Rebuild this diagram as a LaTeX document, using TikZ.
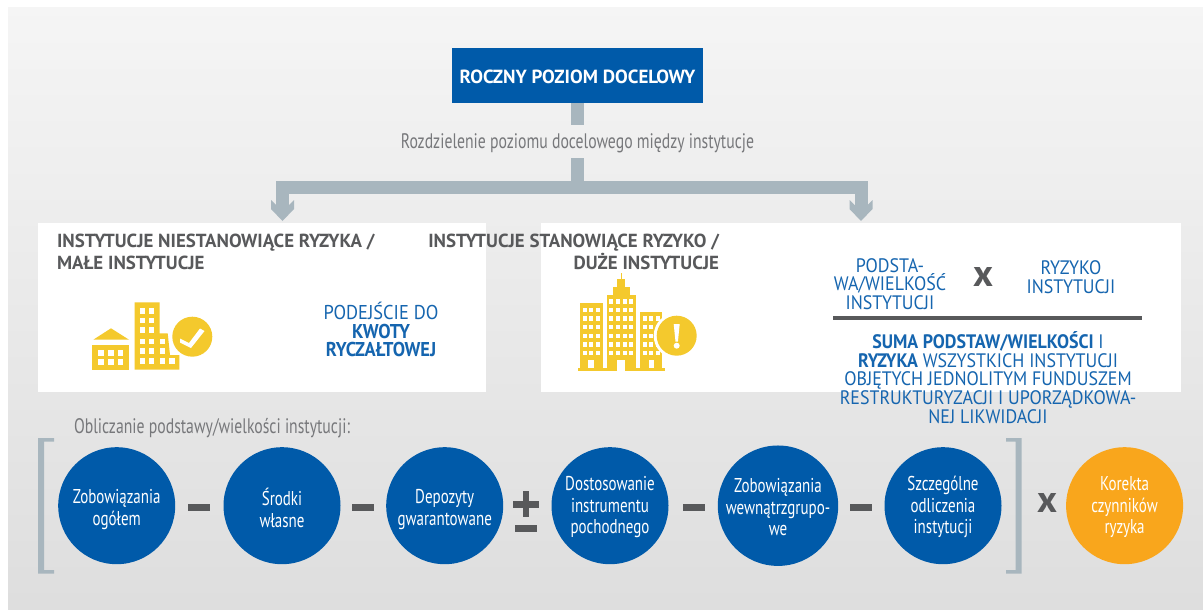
\documentclass[tikz,border=0pt]{standalone}
\usepackage{fontspec}
\setmainfont{PT Sans}
\newfontfamily\nara[FakeStretch=0.75]{PT Sans}
\newfontfamily\narc[FakeStretch=0.92]{PT Sans}
\newcommand{\lowerA}{\rule{0pt}{22pt}}
\newcommand{\lowerB}{\rule{0pt}{17pt}}
\usetikzlibrary{arrows.meta}
\definecolor{bluefill}{HTML}{005AA9}
\definecolor{bluetxt}{HTML}{1565AF}
\definecolor{orangefill}{HTML}{F9A61C}
\definecolor{graytxt}{HTML}{58595B}
\definecolor{lighttxt}{HTML}{77787B}
\definecolor{steel}{HTML}{A8B6BE}
\definecolor{yel}{HTML}{F4C92D}
\tikzset{
  every node/.style={inner sep=0pt,outer sep=0pt},
  disc/.style={circle,minimum size=117pt,fill=bluefill,text=white,align=center,font=\nara\fontsize{20}{21.5}\selectfont},
  op/.style={draw=none,fill=graytxt},
  head/.style={text=graytxt,font=\bfseries\fontsize{18.9}{22}\selectfont},
  bluet/.style={text=bluetxt,align=center,font=\narc\fontsize{19.5}{18.8}\selectfont},
  pipe/.style={draw=steel,line width=13pt,line join=miter},
  arrowtip/.style={fill=steel,draw=none},
  brack/.style={fill=steel,draw=none},
  win/.style={fill=white,draw=none},
  icon/.style={fill=yel,draw=none}
}
\begin{document}
\begin{tikzpicture}[x=1pt,y=-1pt]
\useasboundingbox (0,0) rectangle (1203,610);
\fill[white] (0,0) rectangle (1203,610);
\shade[top color=black!4,bottom color=black!13,shading angle=0] (8,8) rectangle (1203,610);
% white panels
\fill[white] (38,223) rectangle (486,392);
\fill[white] (541,223) rectangle (1181,392);
% top
\node[fill=bluefill,text=white,minimum width=251pt,minimum height=55pt,font=\bfseries\fontsize{19}{20}\selectfont] (top) at (577.5,75.5) {\rule{0pt}{16pt}ROCZNY POZIOM DOCELOWY};
\node[minimum width=356pt,minimum height=33pt,text=lighttxt,font=\nara\fontsize{21}{24}\selectfont] (cap) at (577.5,141.5) {\rule{0pt}{18pt}Rozdzielenie poziomu docelowego między instytucje};
\coordinate (junc) at (577.5,187);
\coordinate (barL) at (282.5,187);
\coordinate (barR) at (861,187);
\coordinate (shaftL) at (282.5,206);
\coordinate (shaftR) at (861,206);
\coordinate (tipL) at (282.5,221);
\coordinate (tipR) at (861,221);
\draw[pipe] (top.south) -- (cap.north);
\draw[pipe] (cap.south) -- (junc);
\draw[pipe] (barR) -- (barL) -- (shaftL);
\draw[pipe] (barL) -- (barR) -- (shaftR);
\foreach \t in {tipL,tipR}
  \fill[arrowtip] (\t) ++(-11.5,-21) -- ++(5,5) -- ++(13,0) -- ++(5,-5) -- ++(0,9) -- ++(-11.5,12) -- ++(-11.5,-12) -- cycle;
% headings
\node[head,anchor=north west,align=left] (h1) at (57,234) {INSTYTUCJE NIESTANOWIĄCE RYZYKA /\\MAŁE INSTYTUCJE};
\node[head,anchor=north east,align=right] (h2) at (719,234) {INSTYTUCJE STANOWIĄCE RYZYKO /\\DUŻE INSTYTUCJE};
% left text
\node[text=bluetxt,align=center,font=\narc\fontsize{20}{18.7}\selectfont] (flat) at (381,329.5) {PODEJŚCIE DO\\\textbf{KWOTY}\\\textbf{RYCZAŁTOWEJ}};
% formula
\node[bluet] (f1) at (890,284) {PODSTA-\\WA/WIELKOŚĆ\\INSTYTUCJI};
\node[text=graytxt,font=\bfseries\fontsize{38}{38}\selectfont] (fx) at (983,277) {x};
\node[bluet] (f2) at (1071,277) {RYZYKO\\INSTYTUCJI};
\coordinate (ruleA) at (833,318);
\coordinate (ruleB) at (1142,318);
\draw[graytxt,line width=4pt] (ruleA) -- (ruleB);
\node[bluet] (f3) at (988,377.5) {\textbf{SUMA PODSTAW/WIELKOŚCI} I\\\textbf{RYZYKA} WSZYSTKICH INSTYTUCJI\\OBJĘTYCH JEDNOLITYM FUNDUSZEM\\RESTRUKTURYZACJI I UPORZĄDKOWA-\\NEJ LIKWIDACJI};
% lower caption
\node[anchor=west,text=lighttxt,font=\nara\fontsize{21}{24}\selectfont] (oblicz) at (74,428) {Obliczanie podstawy/wielkości instytucji:};
% brackets
\fill[brack] (38,438) -- (54,438) -- (54,441.5) -- (44,441.5) -- (44,570) -- (54,570) -- (54,573.5) -- (38,573.5) -- cycle;
\fill[brack] (1021.5,438) -- (1006,438) -- (1006,441.5) -- (1015.5,441.5) -- (1015.5,570) -- (1006,570) -- (1006,573.5) -- (1021.5,573.5) -- cycle;
% discs
\node[disc] (c1) at (116.7,505.7) {\lowerA Zobowiązania\\ogółem};
\node[disc] (c2) at (282,505.7) {\lowerA Środki\\własne};
\node[disc] (c3) at (444.7,505.7) {\lowerA Depozyty\\gwarantowane};
\node[disc] (c4) at (610,505.7) {\lowerB Dostosowanie\\instrumentu\\pochodnego};
\node[disc] (c5) at (778,505.7) {\lowerB Zobowiązania\\wewnątrzgrupo-\\we};
\node[disc] (c6) at (943,505.7) {\lowerB Szczególne\\odliczenia\\instytucji};
\node[disc,fill=orangefill] (c7) at (1124.6,505.7) {\lowerB Korekta\\czynników\\ryzyka};
% operators
\fill[op] (188,504) rectangle (210,510.5);
\fill[op] (352,504) rectangle (374,510.5);
\fill[op] (683,504) rectangle (705,510.5);
\fill[op] (850,504) rectangle (872,510.5);
\fill[op] (513,501) rectangle (539,507.5);
\fill[op] (522.8,491) rectangle (529.2,517);
\fill[op] (515,525) rectangle (537,531.5);
\node[text=graytxt,font=\bfseries\fontsize{38}{38}\selectfont] (mx) at (1047,503) {x};
% left icon
\fill[icon] (93.3,339.7) -- (111,328.3) -- (129,339.7) -- cycle;
\fill[icon] (92.3,345) rectangle (129.3,369.7);
\foreach \x in {98.3,108.3,117.7} \foreach \y in {350,359.3} \fill[win] (\x,\y) rectangle +(5.6,5.6);
\fill[icon] (134.7,302.3) -- (159.7,302.3) -- (159.7,333.3) -- (167.7,333.3) -- (170,355) -- (179.3,355) -- (179.3,369.7) -- (134.7,369.7) -- cycle;
\foreach \y in {308.3,317.7,327.3,339,348.3,358.3} \foreach \x in {139.7,149} \fill[win] (\x,\y) rectangle +(5.3,5.3);
\foreach \y in {339,348.3,358.3} \fill[win] (159.7,\y) rectangle +(5.3,5.3);
\fill[win] (169.3,358.3) rectangle +(5.3,5.3);
\fill[white] (192.3,336.7) circle[radius=22];
\fill[icon] (192.3,336.7) circle[radius=20];
\fill[white] (180,338.5) -- (189,343) -- (200,328.5) -- (204.5,331) -- (191,348) -- (180,342.5) -- cycle;
% right icon
\fill[icon] (578.3,367.7) rectangle (665,371);
\fill[icon] (580,303.3) rectangle (602.7,370);
\fill[icon] (606.7,295) rectangle (636,370);
\fill[icon] (612.7,286.7) rectangle (630,295);
\fill[icon] (617.3,279.3) rectangle (625,286.7);
\fill[icon] (620.7,272.7) rectangle (622,279.3);
\fill[icon] (640.3,311.7) rectangle (662.3,370);
\foreach \x in {582.7,589.3,596} \foreach \y in {307.7,316.3,325,333.7,342.3,351} \fill[win] (\x,\y) rectangle +(4,4.3);
\foreach \x in {609.3,616,622.7,629.3} \foreach \y in {299.3,307.7,316.3,325,333.7,342.3,351} \fill[win] (\x,\y) rectangle +(4,4.3);
\foreach \x in {642.7,649.3,656} \foreach \y in {316.3,325,333.7,342.3,351} \fill[win] (\x,\y) rectangle +(4,4.3);
\fill[win] (588.3,360) rectangle (594.3,368);
\fill[win] (617.3,360) rectangle (625.3,371);
\fill[win] (648.7,360) rectangle (654.3,368);
\fill[white] (676.7,335.7) circle[radius=23];
\fill[icon] (676.7,335.7) circle[radius=20];
\fill[white] (673.7,324) -- (679.7,324) -- (677.9,341.7) -- (675.5,341.7) -- cycle;
\fill[white] (676.7,345.7) circle[radius=3];
\end{tikzpicture}
\end{document}
